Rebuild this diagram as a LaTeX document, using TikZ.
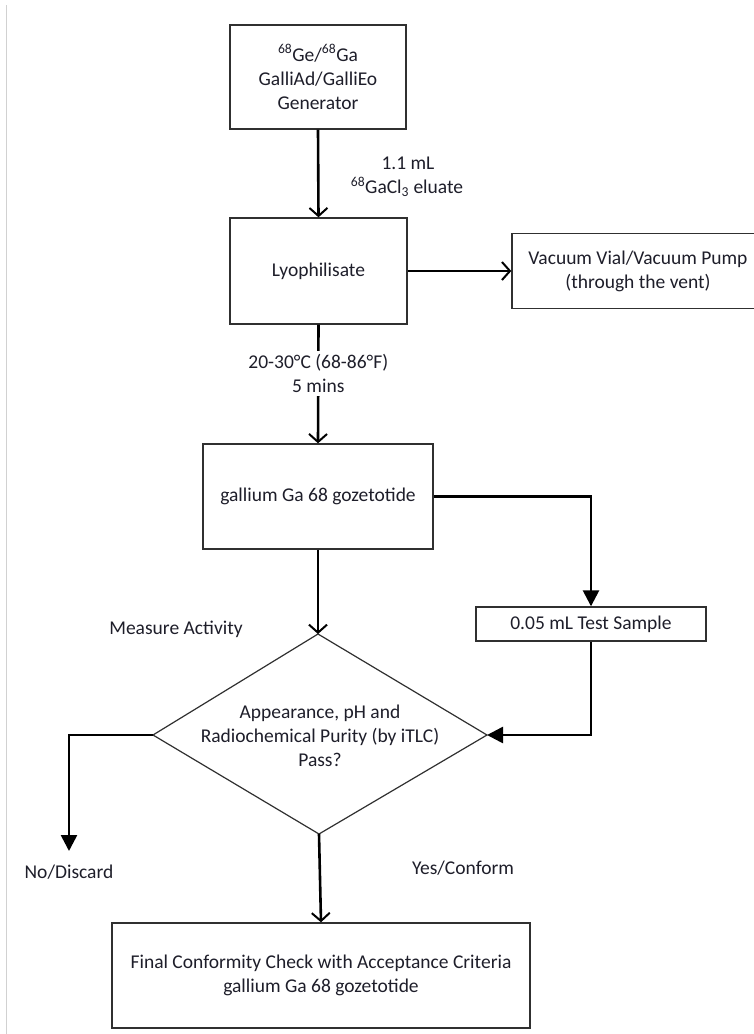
\documentclass[tikz,border=0pt]{standalone}
\usepackage{fontspec}
\setmainfont{Carlito}
\usetikzlibrary{arrows.meta,calc}
\definecolor{txt}{HTML}{1E1E2A}
\definecolor{edge}{HTML}{303030}
\tikzset{
  box/.style={draw=edge, line width=1.4pt, fill=white, inner sep=0pt, align=center, text=txt,
    font=\fontsize{19.5}{24}\selectfont},
  lbl/.style={inner sep=0pt, align=center, text=txt, font=\fontsize{19.5}{24}\selectfont},
  flow/.style={draw=black, line width=2.6pt, -{Straight Barb[length=8pt,width=18pt,line width=2pt]}},
  flowf/.style={draw=black, line width=2.6pt, -{Triangle[length=16pt,width=16pt]}},
}
\begin{document}
\begin{tikzpicture}[x=1pt,y=-1pt]
\clip (0,0) rectangle (754,1034);
\useasboundingbox (0,0) rectangle (754,1034);
\fill[white] (0,0) rectangle (754,1034);
\draw[black!18, line width=1pt] (6,5) -- (6,1034);

% nodes
\node[box, minimum width=176pt, minimum height=104pt] (gen) at (318,77)
  {\textsuperscript{68}Ge/\textsuperscript{68}Ga\\GalliAd/GalliEo\\Generator};
\node[box, minimum width=177pt, minimum height=106pt] (lyo) at (318.5,271) {Lyophilisate};
\node[box, minimum width=252pt, minimum height=75pt] (vac) at (638,271)
  {Vacuum Vial/Vacuum Pump\\(through the vent)};
\node[box, minimum width=230pt, minimum height=105pt] (gal) at (318,496.5) {gallium Ga 68 gozetotide};
\node[box, minimum width=230pt, minimum height=34pt] (test) at (591,624) {0.05 mL Test Sample};
\node[box, minimum width=418pt, minimum height=105pt] (final) at (321,975.5)
  {Final Conformity Check with Acceptance Criteria\\gallium Ga 68 gozetotide};

% decision diamond
\coordinate (dT) at (318,634);
\coordinate (dR) at (487,735);
\coordinate (dB) at (319,834);
\coordinate (dL) at (153,735);
\draw[edge, line width=1.2pt, fill=white, line join=miter] (dT) -- (dR) -- (dB) -- (dL) -- cycle;
\node[lbl] (dtext) at (320,736) {Appearance, pH and\\Radiochemical Purity (by iTLC)\\Pass?};
\coordinate (noEnd) at (69,851);

% connectors
\draw[flow] (gen.south) -- (lyo.north);
\draw[flow] (lyo.east) -- (vac.west);
\draw[flow] (lyo.south) -- (gal.north)
  node[lbl, fill=white, inner ysep=3pt, pos=0.41] (temp) {20-30°C (68-86°F)\\5 mins};
\draw[flowf] (gal.east) -| (test.north);
\draw[flow] (gal.south) -- (dT);
\draw[flowf] (test.south) |- (dR);
\draw[flowf] (dL) -| (noEnd);
\draw[flow] (dB) -- (final.north);

% labels
\node[lbl] (vol) at (408,163) {1.1 mL};
\node[lbl] (elu) at (407,187) {\textsuperscript{68}GaCl\textsubscript{3} eluate};
\node[lbl] (meas) at (176,629) {Measure Activity};
\node[lbl] (no) at (69,872) {No/Discard};
\node[lbl] (yes) at (463,868) {Yes/Conform};
\end{tikzpicture}
\end{document}
